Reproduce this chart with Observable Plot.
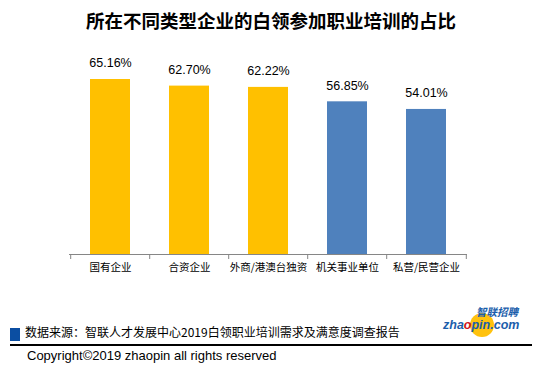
<!DOCTYPE html>
<html><head><meta charset="utf-8">
<script src="https://cdn.jsdelivr.net/npm/d3@7"></script>
<script src="https://cdn.jsdelivr.net/npm/@observablehq/plot@0.6"></script>
<style>
body{margin:0;background:#fff;}
#wrap{position:relative;width:542px;height:373px;overflow:hidden;background:#fff;font-family:"Noto Sans CJK SC",sans-serif;}
#title{position:absolute;top:10px;left:0;width:542px;text-align:center;font-size:18.5px;line-height:20px;font-weight:bold;color:#000;}
#chart{position:absolute;top:0;left:0;}
#sq{position:absolute;left:10px;top:328px;width:10px;height:13px;background:#0B4EA2;}
#src{position:absolute;left:25px;top:324px;font-size:12px;line-height:16px;color:#000;white-space:nowrap;}
#line{position:absolute;left:10px;top:344px;width:522px;height:1.5px;background:#000;}
#copy{position:absolute;left:27px;top:348px;font-family:"Liberation Sans",sans-serif;font-size:13px;line-height:16px;color:#000;white-space:nowrap;}
#ball{position:absolute;left:470px;top:313px;width:24px;height:24px;border-radius:50%;background:#FFC20E;}
#logo1{position:absolute;left:476px;top:305px;font-size:10.5px;line-height:13px;font-weight:bold;font-style:italic;color:#1B5EAB;white-space:nowrap;}
#logo2{position:absolute;left:443px;top:318px;font-family:"Liberation Sans",sans-serif;font-size:12.5px;line-height:14px;font-weight:bold;font-style:italic;color:#1B5EAB;white-space:nowrap;}
#logo2 span{color:#D0141B;}
</style></head>
<body>
<div id="wrap">
  <div id="chart"></div>
  <div id="title">所在不同类型企业的白领参加职业培训的占比</div>
  <div id="sq"></div>
  <div id="src">数据来源：智联人才发展中心2019白领职业培训需求及满意度调查报告</div>
  <div id="line"></div>
  <div id="copy">Copyright©2019 zhaopin all rights reserved</div>
  <div id="ball"></div>
  <div id="logo1">智联招聘</div>
  <div id="logo2">zha<span>o</span>pin.com</div>
</div>
<script>
const categories = ["国有企业", "合资企业", "外商/港澳台独资", "机关事业单位", "私营/民营企业"];
const values = [65.16, 62.70, 62.22, 56.85, 54.01];
const groups = ["A", "A", "A", "B", "B"];

const data = categories.map((c, i) => ({cat: c, value: values[i], group: groups[i]}));
const step = (467 - 69) / (categories.length);

const chart = Plot.plot({
  width: 542,
  height: 300,
  marginLeft: 69,
  marginRight: 75,
  marginTop: 0,
  marginBottom: 0,
  style: {background: "transparent", overflow: "visible"},
  x: {domain: categories, range: [69, 467], paddingInner: 0.5, paddingOuter: 0.25, axis: null},
  y: {domain: [0, 70], range: [254, 66], axis: null},
  color: {domain: ["A", "B"], range: ["#FFC000", "#4F81BD"]},
  marks: [
    Plot.barY(data, {x: "cat", y: "value", fill: "group"}),
    Plot.ruleY([0], {stroke: "#868686", strokeWidth: 1}),
    Plot.ruleX(categories, {x: d => d, y1: 0, y2: 0, insetBottom: -5, dx: -step / 2, stroke: "#868686"}),
    Plot.ruleX([categories[categories.length - 1]], {x: d => d, y1: 0, y2: 0, insetBottom: -5, dx: step / 2, stroke: "#868686"}),
    Plot.text(data, {x: "cat", y: "value", text: d => d.value.toFixed(2) + "%", dy: -16, fontSize: 12.5, fontFamily: "Liberation Sans", fill: "#000"}),
    Plot.text(categories, {x: d => d, y: 0, text: d => d, dy: 13, fontSize: 10.5, fontFamily: "Noto Sans CJK SC", fill: "#000"})
  ]
});
document.getElementById("chart").appendChild(chart);
</script>
</body></html>
